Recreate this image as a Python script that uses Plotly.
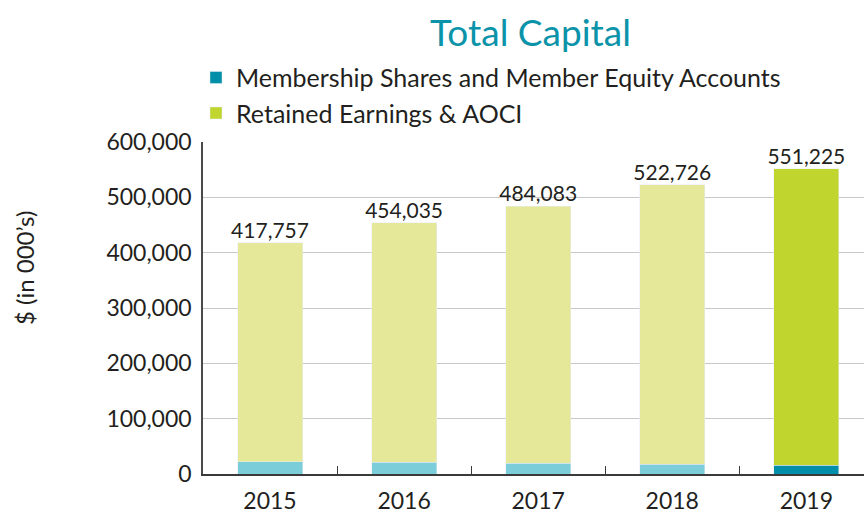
import plotly.graph_objects as go

years = ["2015", "2016", "2017", "2018", "2019"]
totals = [417757, 454035, 484083, 522726, 551225]
member_equity = [22500, 21000, 19000, 17500, 15500]
retained = [395257, 433035, 465083, 505226, 535725]
total_labels = ["417,757", "454,035", "484,083", "522,726", "551,225"]

FONT = "Lato"
TXT = "#231f20"

fig = go.Figure()

# 2015-2018 in the pale colours, 2019 highlighted
fig.add_trace(go.Bar(x=years[:4], y=member_equity[:4], marker_color="#7acdd9",
                     showlegend=False, width=0.485))
fig.add_trace(go.Bar(x=years[4:], y=member_equity[4:], marker_color="#008ea9",
                     name="Membership Shares and Member Equity Accounts", width=0.485))
fig.add_trace(go.Bar(x=years[:4], y=retained[:4], marker_color="#e5e899",
                     showlegend=False, width=0.485))
fig.add_trace(go.Bar(x=years[4:], y=retained[4:], marker_color="#c1d52f",
                     name="Retained Earnings & AOCI", width=0.485))

fig.add_trace(go.Scatter(x=years, y=totals, mode="text", text=total_labels,
                         textposition="top center", showlegend=False,
                         textfont=dict(family=FONT, size=21, color=TXT),
                         cliponaxis=False))

fig.update_layout(
    width=864, height=512,
    barmode="stack",
    plot_bgcolor="white", paper_bgcolor="white",
    margin=dict(l=203, r=0, t=142, b=38, autoexpand=False),
    font=dict(family=FONT, size=23, color=TXT),
    legend=dict(orientation="v", traceorder="normal",
                x=-0.0106, y=1.263, xanchor="left", yanchor="top",
                font=dict(family=FONT, size=25, color=TXT), bgcolor="rgba(0,0,0,0)"),
    annotations=[
        dict(text="Total Capital", xref="paper", yref="paper", x=0.496, y=1.334,
             xanchor="center", yanchor="middle", showarrow=False,
             font=dict(family=FONT, size=37, color="#0b93a9")),
        dict(text="$ (in 000’s)", xref="paper", yref="paper", x=-0.271, y=0.62,
             textangle=-90, xanchor="center", yanchor="middle", showarrow=False,
             font=dict(family=FONT, size=24, color=TXT)),
    ],
)

fig.update_xaxes(type="category", range=[-0.5, 4.43], showgrid=False,
                 showline=True, linecolor="#3a3a3a", linewidth=2,
                 ticks="inside", tickson="boundaries", ticklen=8, tickcolor="#3a3a3a",
                 ticklabelstandoff=5, zeroline=False, automargin=False)
fig.update_yaxes(range=[0, 600000], tickvals=[0, 100000, 200000, 300000, 400000, 500000, 600000],
                 tickformat=",d", showgrid=True, gridcolor="#c8c8c8", gridwidth=1,
                 showline=True, linecolor="#4a4a4a", linewidth=1.5, zeroline=False,
                 ticks="", ticklabelstandoff=5, automargin=False)

fig.write_html("out.html", config={"displayModeBar": False},
               post_script="document.body.style.margin='0px';")
